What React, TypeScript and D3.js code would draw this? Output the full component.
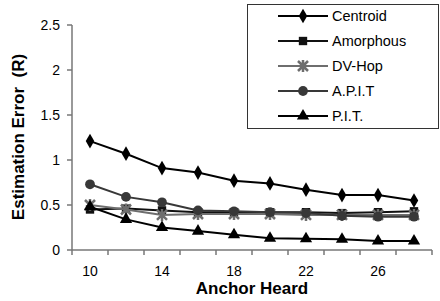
import { useEffect, useRef } from "react"
import * as d3 from "d3"

const anchors = [10, 12, 14, 16, 18, 20, 22, 24, 26, 28]
const xTickLabels = [10, 14, 18, 22, 26]
const yTicks = [0, 0.5, 1, 1.5, 2, 2.5]

const centroid = [1.21, 1.07, 0.91, 0.86, 0.77, 0.74, 0.67, 0.61, 0.61, 0.55]
const amorphous = [0.45, 0.46, 0.44, 0.42, 0.42, 0.42, 0.42, 0.41, 0.42, 0.43]
const dvHop = [0.5, 0.45, 0.39, 0.4, 0.4, 0.4, 0.39, 0.39, 0.39, 0.39]
const apit = [0.73, 0.59, 0.53, 0.44, 0.43, 0.42, 0.41, 0.38, 0.37, 0.37]
const pit = [0.48, 0.34, 0.25, 0.21, 0.17, 0.13, 0.125, 0.12, 0.1, 0.1]

const series = [
  { name: "Centroid", values: centroid, color: "#000000", marker: "diamond" },
  { name: "Amorphous", values: amorphous, color: "#111111", marker: "square" },
  { name: "DV-Hop", values: dvHop, color: "#6e6e6e", marker: "star" },
  { name: "A.P.I.T", values: apit, color: "#383838", marker: "circle" },
  { name: "P.I.T.", values: pit, color: "#000000", marker: "triangle" },
]

const W = 440
const H = 301
const font = "'Liberation Sans', Arial, sans-serif"

function drawMarker(g: any, kind: string, x: number, y: number, color: string) {
  if (kind === "star") {
    const r = 5
    const d = `M${x - r},${y - r}L${x + r},${y + r}M${x + r},${y - r}L${x - r},${y + r}M${x},${y - r - 1}L${x},${y + r + 1}`
    g.append("path").attr("d", d).attr("stroke", color).attr("stroke-width", 2.5).attr("fill", "none")
    return
  }
  const types: any = {
    diamond: [d3.symbolDiamond, 62],
    square: [d3.symbolSquare, 70],
    circle: [d3.symbolCircle, 75],
    triangle: [d3.symbolTriangle, 65],
  }
  const [t, s] = types[kind]
  g.append("path")
    .attr("d", d3.symbol().type(t).size(s)())
    .attr("transform", `translate(${x},${y})`)
    .attr("fill", color)
}

export default function App() {
  const svgRef = useRef<SVGSVGElement>(null)

  useEffect(() => {
    if (!svgRef.current) return
    const svg = d3.select(svgRef.current)
    svg.selectAll("*").remove()

    const left = 72
    const right = 432
    const top = 25
    const bottom = 250

    const x = d3.scaleBand<number>().domain(anchors).range([left, right]).padding(0)
    const y = d3.scaleLinear().domain([0, 2.5]).range([bottom, top])
    const cx = (d: number) => (x(d) || 0) + x.bandwidth() / 2

    const axisColor = "#777777"

    // eje y
    svg.append("line").attr("x1", left).attr("x2", left).attr("y1", top).attr("y2", bottom)
      .attr("stroke", axisColor).attr("stroke-width", 1.5)
    yTicks.forEach((t) => {
      svg.append("line").attr("x1", left - 5).attr("x2", left).attr("y1", y(t)).attr("y2", y(t))
        .attr("stroke", axisColor).attr("stroke-width", 1.5)
      svg.append("text").attr("x", left - 12).attr("y", y(t) + 5).attr("text-anchor", "end")
        .attr("font-size", 14).attr("font-family", font).attr("fill", "#000").text(String(t))
    })

    // eje x
    svg.append("line").attr("x1", left).attr("x2", right).attr("y1", bottom).attr("y2", bottom)
      .attr("stroke", axisColor).attr("stroke-width", 1.5)
    const edges = anchors.map((a) => x(a) || 0).concat([right])
    edges.forEach((e) => {
      svg.append("line").attr("x1", e).attr("x2", e).attr("y1", bottom).attr("y2", bottom + 5)
        .attr("stroke", axisColor).attr("stroke-width", 1.5)
    })
    xTickLabels.forEach((t) => {
      svg.append("text").attr("x", cx(t)).attr("y", bottom + 26).attr("text-anchor", "middle")
        .attr("font-size", 14).attr("font-family", font).attr("fill", "#000").text(String(t))
    })

    svg.append("text").attr("x", 252).attr("y", 294).attr("text-anchor", "middle")
      .attr("font-size", 17).attr("font-weight", "bold").attr("font-family", font)
      .text("Anchor Heard")

    svg.append("text").attr("transform", "translate(24,137) rotate(-90)").attr("text-anchor", "middle")
      .attr("font-size", 17).attr("font-weight", "bold").attr("font-family", font)
      .attr("xml:space", "preserve").style("white-space", "pre")
      .text("Estimation Error  (R)")

    // series
    const line = d3.line<number>().x((_, i) => cx(anchors[i])).y((d) => y(d))
    series.forEach((s) => {
      const g = svg.append("g")
      g.append("path").datum(s.values).attr("d", line).attr("fill", "none")
        .attr("stroke", s.color).attr("stroke-width", 2)
      s.values.forEach((v, i) => drawMarker(g, s.marker, cx(anchors[i]), y(v), s.color))
    })

    // leyenda
    const lg = svg.append("g")
    lg.append("rect").attr("x", 247.5).attr("y", 4.5).attr("width", 191).attr("height", 124)
      .attr("fill", "#fff").attr("stroke", "#333").attr("stroke-width", 1)
    series.forEach((s, i) => {
      const ly = 16 + i * 25
      lg.append("line").attr("x1", 278).attr("x2", 328).attr("y1", ly).attr("y2", ly)
        .attr("stroke", s.color).attr("stroke-width", 2)
      drawMarker(lg, s.marker, 303, ly, s.color)
      lg.append("text").attr("x", 332).attr("y", ly + 5).attr("font-size", 14.5)
        .attr("font-family", font).attr("fill", "#000").text(s.name)
    })
  }, [])

  return (
    <svg ref={svgRef} width={W} height={H}
      style={{ position: "absolute", left: 0, top: 0, background: "#fff" }} />
  )
}
